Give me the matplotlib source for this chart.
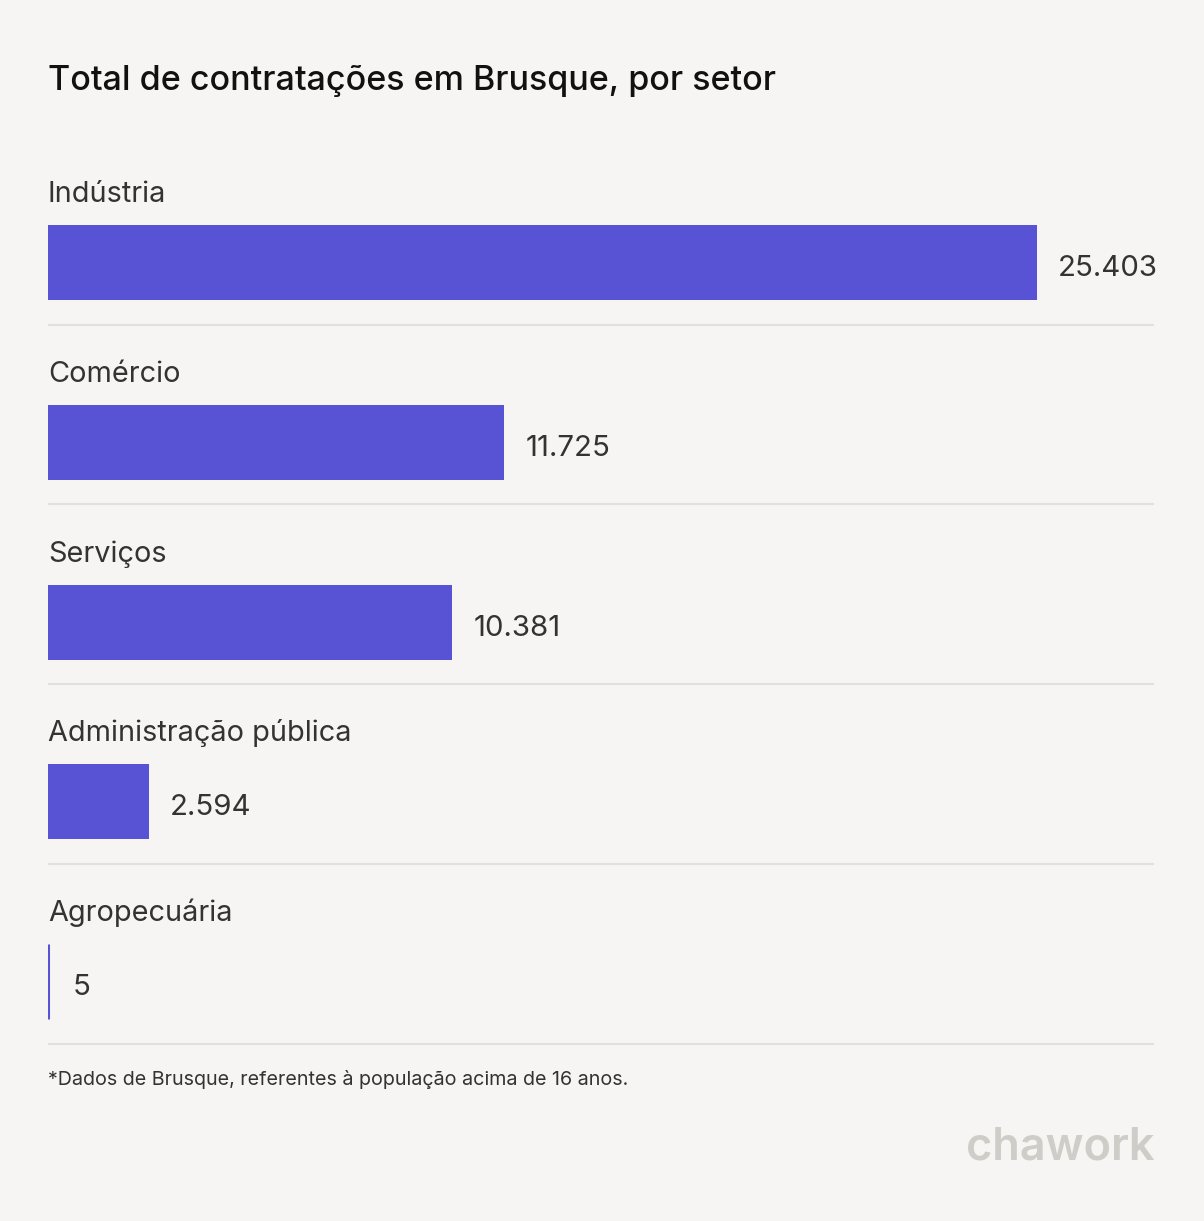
import matplotlib
matplotlib.use("Agg")
import matplotlib.pyplot as plt

# dados
setores = ["Indústria", "Comércio", "Serviços", "Administração pública", "Agropecuária"]
valores = [25403, 11725, 10381, 2594, 5]
rotulos = ["25.403", "11.725", "10.381", "2.594", "5"]

titulo = "Total de contratações em Brusque, por setor"
nota = "*Dados de Brusque, referentes à população acima de 16 anos."

plt.rcParams['font.family'] = ['Inter', 'DejaVu Sans']

W, H = 1204, 1221
fundo = "#f6f5f3"
cor_barra = "#5852d5"
cor_texto = "#333333"

fig = plt.figure(figsize=(W / 100, H / 100), dpi=100)
fig.patch.set_facecolor(fundo)

# eixo em pixels: x de 48 a 1154, y de 150 a 1046
x0, x1 = 48, 1154
y0, y1 = 150, 1046
ax = fig.add_axes([x0 / W, 1 - y1 / H, (x1 - x0) / W, (y1 - y0) / H])
ax.set_facecolor(fundo)

escala = (1037 - 48) / valores[0]  # px por unidade
ax.set_xlim(0, (x1 - x0) / escala)
passo = 179.8
centro0 = 262.5
ax.set_ylim((y1 - centro0) / passo, (y0 - centro0) / passo)
ax.axis("off")

altura = 75 / passo
for i, (s, v, r) in enumerate(zip(setores, valores, rotulos)):
    fino = v < 100
    ax.barh(i, v, height=altura, color=cor_barra, edgecolor=cor_barra,
            linewidth=2.2 if fino else 0)
    # rótulo da categoria (linha de base)
    ax.text(0, i - (centro0 - 202) / passo, s, fontsize=20.8, color=cor_texto,
            va="baseline", ha="left")
    # valor ao lado da barra
    ax.text(v + (21 + (3 if fino else 0)) / escala, i + 13.5 / passo, r,
            fontsize=21.2, color=cor_texto, va="baseline", ha="left")
    ax.axhline(i + (324.5 - centro0) / passo, color="#e2e0dd", linewidth=1.5)

fig.text(48 / W, 1 - 90 / H, titulo, fontsize=24.5, color="#111111",
         va="baseline", ha="left", fontweight="medium")
fig.text(48 / W, 1 - 1085 / H, nota, fontsize=14.2, color=cor_texto,
         va="baseline", ha="left")
fig.text(1155 / W, 1 - 1160 / H, "chawork", fontsize=32.5, color="#cfcdc7",
         va="baseline", ha="right", fontweight="semibold")

fig.savefig("out.png", dpi=100, facecolor=fundo)
